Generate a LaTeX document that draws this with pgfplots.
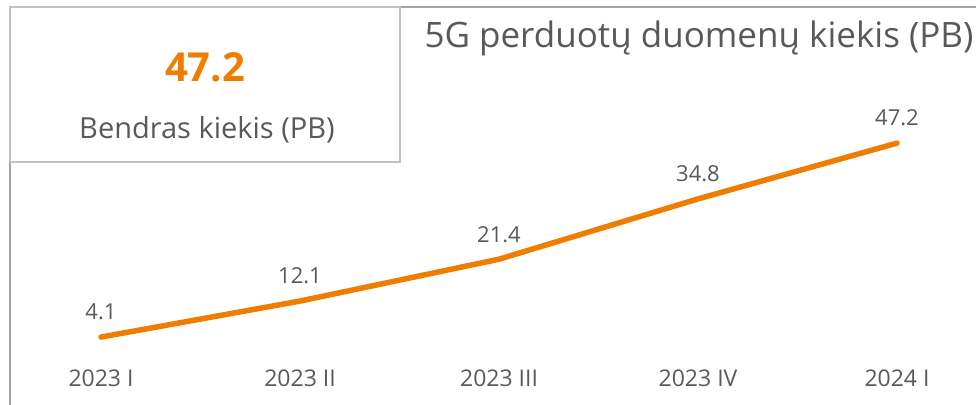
\documentclass[border=0pt]{standalone}
\usepackage{fontspec}
\setmainfont{Open Sans}
\usepackage{pgfplots}
\pgfplotsset{compat=1.18}
\definecolor{lineorange}{RGB}{240,125,0}
\definecolor{txtgray}{RGB}{89,89,89}
\definecolor{boxgray}{RGB}{195,192,192}
\definecolor{framegray}{RGB}{160,165,168}

\begin{document}
\begin{tikzpicture}
\useasboundingbox (0bp,0bp) rectangle (976bp,405bp);
% frame lines and the summary box
\draw[framegray, line width=2bp] (10bp,0bp) -- (10bp,243bp);
\draw[framegray, line width=2bp] (400bp,398bp) -- (976bp,398bp);
\draw[boxgray, line width=1.5bp] (10bp,243bp) rectangle (400bp,398bp);
\node[text=lineorange, font=\bfseries\fontsize{40bp}{48bp}\selectfont] at (205bp,338bp) {47.2};
\node[text=txtgray, font=\fontsize{29bp}{34bp}\selectfont] at (207bp,275bp) {Bendras kiekis (PB)};
\node[text=txtgray, font=\fontsize{35bp}{41bp}\selectfont] at (699bp,367bp) {5G perduotų duomenų kiekis (PB)};

\begin{axis}[
    anchor=south west, at={(1.5bp,40bp)},
    scale only axis,
    width=970.125bp, height=260bp,
    xmin=-0.5, xmax=4.375,
    ymin=-2.11, ymax=55.67,
    axis line style={draw=none},
    major tick length=0pt,
    ytick=\empty,
    xtick={0,1,2,3,4},
    xticklabels={2023 I, 2023 II, 2023 III, 2023 IV, 2024 I},
    xticklabel style={anchor=center, yshift=-13bp, text=txtgray,
        font=\fontsize{23bp}{27bp}\selectfont},
    clip=false,
    /pgf/number format/assume math mode=true,
    nodes near coords={\pgfmathprintnumber[fixed,zerofill,precision=1]{\pgfplotspointmeta}},
    every node near coord/.append style={anchor=center, yshift=25bp, text=txtgray,
        font=\fontsize{22bp}{26bp}\selectfont},
]
\addplot[lineorange, line width=5.5bp, line cap=round, line join=round] coordinates {
    (0,4.1) (1,12.1) (2,21.4) (3,34.8) (4,47.2)
};
\end{axis}
\end{tikzpicture}
\end{document}
